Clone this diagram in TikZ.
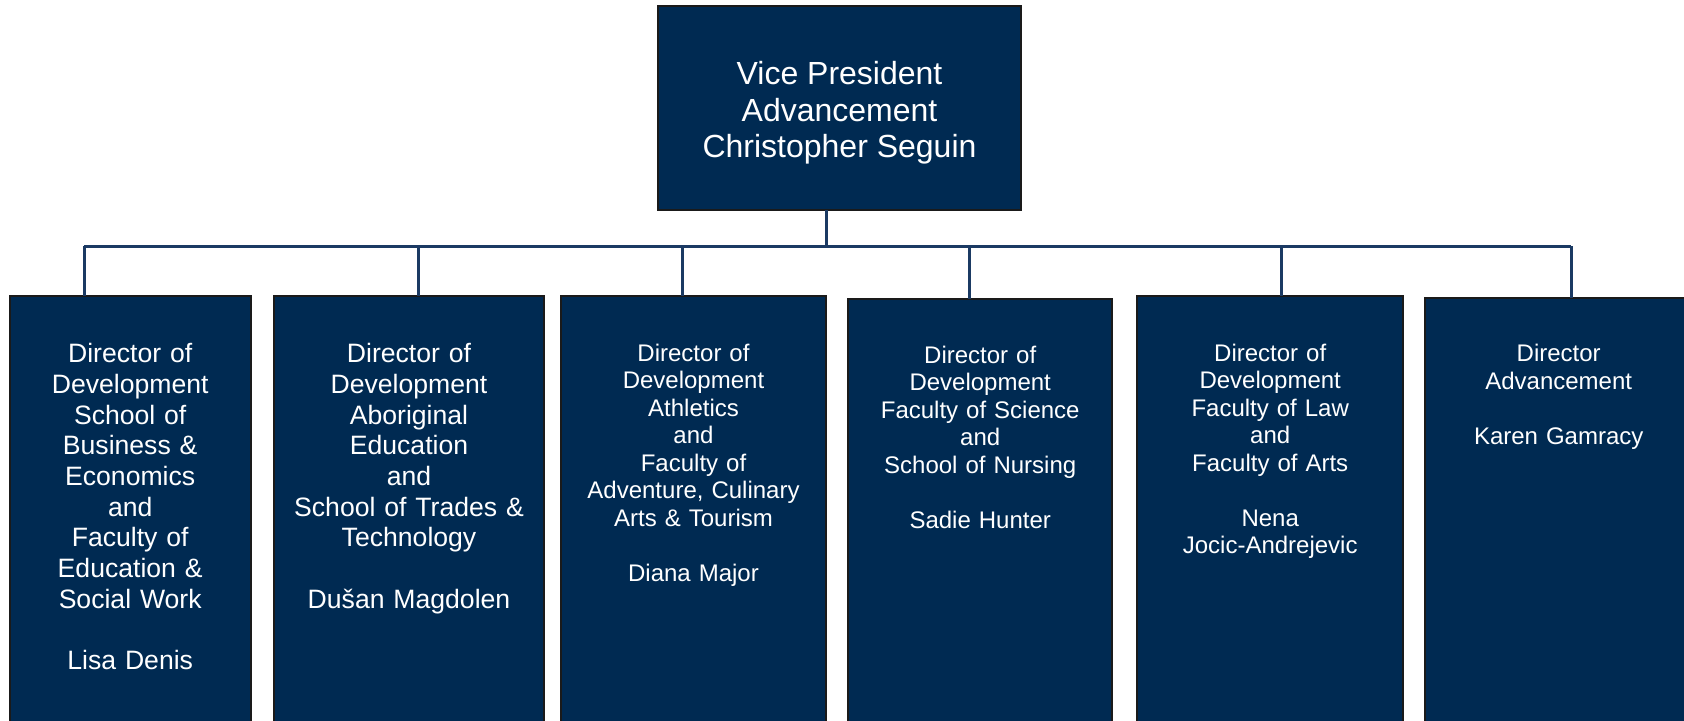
\documentclass[tikz,border=0pt]{standalone}
\usepackage{fontspec}
\setmainfont{Liberation Sans}
\usetikzlibrary{positioning}

\definecolor{navyfill}{HTML}{002A52}
\definecolor{linkblue}{HTML}{1B3A63}
\definecolor{boxedge}{HTML}{1A1A1A}

\begin{document}
\begin{tikzpicture}[
    x=0.5pt, y=-0.5pt,
    vpbox/.style={draw=boxedge, line width=1pt, fill=navyfill,
                  minimum width=181.5pt, minimum height=102pt,
                  inner sep=0pt, outer sep=0pt, anchor=north west,
                  align=center, text=white,
                  font=\fontsize{16}{18.3}\selectfont},
    dirbox/.style={draw=boxedge, line width=1pt, fill=navyfill,
                   minimum height=240pt, inner sep=0pt, outer sep=0pt,
                   anchor=north west},
    bigtxt/.style={text=white, align=center, anchor=base, inner sep=0pt,
                   text width=130pt, font=\fontsize{13.3}{15.35}\selectfont},
    smalltxt/.style={text=white, align=center, anchor=base, inner sep=0pt,
                     text width=130pt, font=\fontsize{12}{13.75}\selectfont},
    link/.style={draw=linkblue, line width=1.5pt},
]
\useasboundingbox (0,0) rectangle (1684,720);
\clip (0,0) rectangle (1684,720);

% --- Vice president ---
\node[vpbox] (vp) at (658,6.4) {\rule{0pt}{16pt}Vice President\\Advancement\\Christopher Seguin};

% --- Director boxes ---
\node[dirbox, minimum width=120.5pt] (d1) at (9.7,296) {};
\node[dirbox, minimum width=135pt]   (d2) at (274,296) {};
\node[dirbox, minimum width=132.5pt] (d3) at (561,296) {};
\node[dirbox, minimum width=131.8pt] (d4) at (848.4,299) {};
\node[dirbox, minimum width=132.8pt] (d5) at (1137.4,296) {};
\node[dirbox, minimum width=134pt]   (d6) at (1424.7,297.7) {};

% --- Box texts ---
\node[bigtxt] (t1) at (d1.north |- 0,362.7) {Director of\\Development\\School of\\Business \&\\Economics\\and\\Faculty of\\Education \&\\Social Work\\[15.35pt]Lisa Denis};
\node[bigtxt] (t2) at (d2.north |- 0,362.7) {Director of\\Development\\Aboriginal\\Education\\and\\School of Trades \&\\Technology\\[15.35pt]Dušan Magdolen};
\node[smalltxt] (t3) at (d3.north |- 0,361) {Director of\\Development\\Athletics\\and\\Faculty of\\Adventure, Culinary\\Arts \& Tourism\\[13.75pt]Diana Major};
\node[smalltxt] (t4) at (d4.north |- 0,363.3) {Director of\\Development\\Faculty of Science\\and\\School of Nursing\\[13.75pt]Sadie Hunter};
\node[smalltxt] (t5) at (d5.north |- 0,361) {Director of\\Development\\Faculty of Law\\and\\Faculty of Arts\\[13.75pt]Nena\\Jocic-Andrejevic};
\node[smalltxt] (t6) at (d6.north |- 0,361.7) {Director\\Advancement\\[13.75pt]Karen Gamracy};

% --- Connectors ---
\coordinate (bus) at (826,246);
\coordinate (j1) at (84,246);
\coordinate (j2) at (418,246);
\coordinate (j3) at (682,246);
\coordinate (j4) at (969,246);
\coordinate (j5) at (1281,246);
\coordinate (j6) at (1571,246);

\draw[link] (vp.south -| bus) -- (bus);
\draw[link] (j1) -- (j6);
\foreach \i in {1,...,6}
    \draw[link] (j\i) -- (j\i |- d\i.north);

\end{tikzpicture}
\end{document}
